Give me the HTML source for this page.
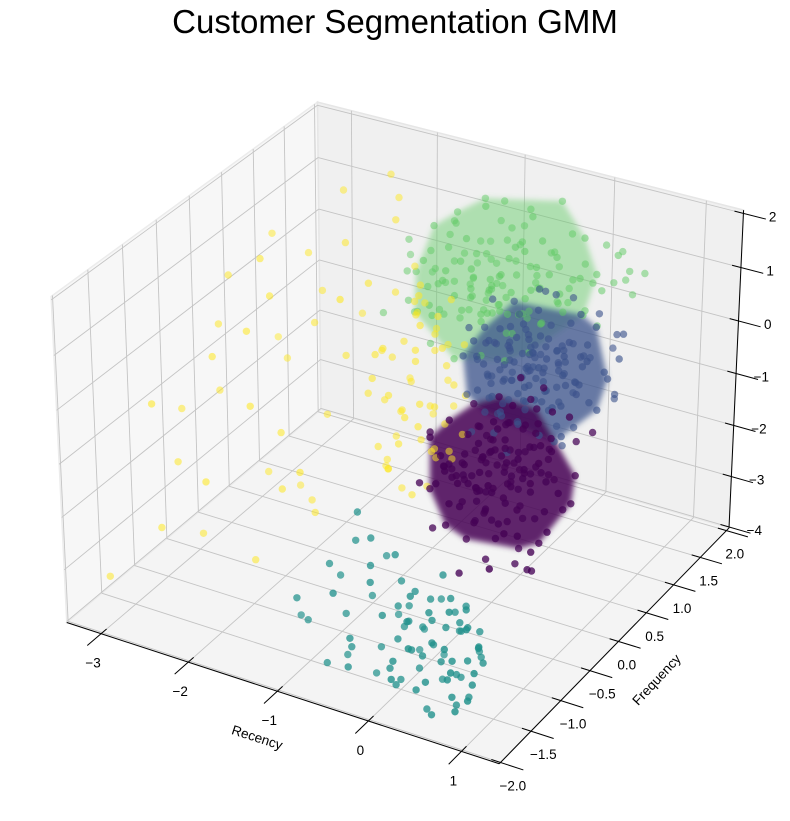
<!DOCTYPE html>
<html><head><meta charset="utf-8"><title>Customer Segmentation GMM</title>
<style>html,body{margin:0;padding:0;background:#fff;}svg{display:block;font-family:"Liberation Sans","DejaVu Sans",sans-serif;}</style>
</head><body>
<svg id="chart" width="790" height="821" viewBox="0 0 790 821" xmlns="http://www.w3.org/2000/svg">
<defs><filter id="soft" x="-30%" y="-30%" width="160%" height="160%"><feGaussianBlur stdDeviation="3"/></filter></defs>
<rect x="0" y="0" width="790" height="821" fill="#ffffff"/>
<text x="395" y="33" text-anchor="middle" font-size="33" fill="#000">Customer Segmentation GMM</text>
<g id="panes"></g>
<g id="grid"></g>
<g id="hulls" filter="url(#soft)"></g>
<g id="points"></g>
<g id="axes"></g>
<text x="257" y="742" font-size="13.5" text-anchor="middle" transform="rotate(18 257 738)">Recency</text>
<text x="657" y="684" font-size="13.5" text-anchor="middle" transform="rotate(-47 657 680)">Frequency</text>
<text x="800" y="370" font-size="13.5" text-anchor="middle" transform="rotate(-90 800 370)">Monetary</text>
</svg>
<script>
const xlim = [-3.40, 1.40];
const ylim = [-2.02, 2.05];
const zlim = [-4.02, 2.06];
const xTicks = [-3, -2, -1, 0, 1];
const yTicks = [-2, -1.5, -1, -0.5, 0, 0.5, 1, 1.5, 2];
const zTicks = [-4, -3, -2, -1, 0, 1, 2];
const xTickLabels = ["−3", "−2", "−1", "0", "1"];
const yTickLabels = ["−2.0", "−1.5", "−1.0", "−0.5", "0.0", "0.5", "1.0", "1.5", "2.0"];
const zTickLabels = ["−4", "−3", "−2", "−1", "0", "1", "2"];
const clusterNames = ["green", "yellow", "blue", "purple", "teal"];
const greenCore = [[-0.85,1.20,0.29],[-0.50,1.50,0.50],[-1.20,0.90,0.10],[-0.70,1.00,0.80],[-1.00,1.40,-0.10],[-0.40,1.10,0.20],[-1.30,1.30,0.60],[-0.60,0.80,0.40],[-0.90,1.60,0.90],[-1.10,1.10,-0.20],
[-0.30,1.40,0.70],[-0.75,1.25,-0.05],[-1.40,1.00,0.35],[-0.55,0.95,1.00],[-0.95,1.50,0.15],[-0.20,1.60,0.30],[-1.15,0.80,0.70],[-0.65,1.35,1.10],[-1.05,1.25,0.45],[-0.45,1.00,-0.10],
[-0.85,0.90,0.65],[-1.25,1.50,0.00],[-0.35,1.25,0.95],[-0.80,1.60,0.55],[-1.50,1.20,0.80],[-0.60,1.15,0.05],[-1.00,0.95,1.05],[-0.10,1.50,0.60],[-0.90,1.35,-0.25],[-1.20,1.15,0.40],
[-0.50,1.30,0.25],[-0.70,0.85,0.15],[-1.35,1.40,1.20],[-0.25,1.20,0.00],[-0.95,1.05,0.30],[-0.40,1.65,0.85],[-1.10,1.55,0.60],[-0.75,1.10,0.50],[-1.45,0.90,-0.05],[-0.55,1.45,-0.15],
[-0.15,1.35,0.45],[-1.05,1.30,0.85],[-0.65,0.95,0.75],[-0.85,1.45,0.20],[-1.25,1.05,-0.15],[0.00,1.70,0.40],[-0.45,1.20,1.25],[-1.60,1.10,0.45],[-0.90,1.20,-0.05],[-0.35,0.95,0.35],
[-1.15,1.40,0.25],[-0.70,1.55,1.00],[-0.20,1.10,0.10],[-1.00,0.85,0.50],[-0.55,1.60,0.15],[-1.30,1.20,0.95],[-0.80,1.00,0.10],[-0.30,1.55,0.05],[-1.05,1.65,0.35],[-0.60,1.30,0.65],
[0.10,1.60,0.70],[-0.95,0.90,0.20],[-1.40,1.30,0.15],[-0.40,1.40,0.40],[-0.75,1.40,0.80],[-1.20,0.95,0.60],[-0.05,1.25,0.25],[-0.85,1.60,1.15],[-0.50,1.05,0.60],[-1.10,1.20,1.20],
[-0.65,1.20,0.30],[-0.25,1.45,1.00],[-0.95,1.40,0.70],[-1.35,1.55,0.50],[0.20,1.75,0.45],[-0.45,0.90,0.00],[-0.80,1.30,0.00],[-1.55,1.35,0.30],[-0.15,1.50,0.15],[-0.70,1.70,0.40],
[-1.00,1.10,0.00],[0.30,1.80,0.50],[-0.35,1.35,1.35],[-1.20,1.60,0.75],[-0.60,1.00,0.90],[-0.90,1.00,0.40],[-1.45,1.45,0.90],[-0.50,1.75,0.70],[0.05,1.45,0.05],[-1.25,0.80,0.25]];
const greenExtra = [[-1.40,1.50,1.30],[-0.30,1.80,1.10],[-1.70,0.70,0.00],[0.20,1.90,0.90],[-1.00,1.70,1.50],[-0.60,0.70,-0.30],[-1.50,1.60,1.00],[-0.10,1.70,1.20],[-1.20,0.75,-0.40],[0.35,1.85,0.20],
[-0.80,1.85,1.30],[-1.60,0.95,0.60],[-0.40,0.80,-0.40],[-1.30,1.70,0.20],[0.15,1.55,-0.20],[-0.90,0.70,-0.50],[-0.50,1.90,0.30],[-1.75,1.20,0.90],[-0.20,0.90,-0.25],[-1.10,1.80,1.00],
[0.40,1.70,0.80],[-0.70,1.80,0.00],[-1.45,0.75,0.30],[-0.35,1.65,-0.10],[-1.00,0.70,1.10],[0.05,1.85,1.00],[-1.25,1.75,1.40],[-0.55,0.75,0.90],[-1.65,1.45,0.10],[-0.15,1.80,0.60],
[-0.95,1.55,-0.30],[0.25,1.45,0.60],[-1.35,0.85,1.00],[-0.65,1.65,1.40],[-0.25,1.00,0.80],[-1.55,1.00,-0.20],[-0.85,1.75,0.70],[0.45,1.90,0.60],[-1.15,0.70,0.20],[-0.45,1.85,1.60],
[-1.80,1.30,0.50],[0.10,1.30,0.90],[-0.75,0.75,1.20],[-1.25,1.85,0.50],[-0.05,1.65,-0.10],[-1.05,1.45,1.60],[-0.60,1.50,-0.35],[0.30,1.65,1.10],[-1.40,1.10,1.40],[-0.90,1.90,0.90]];
const yellowCore = [[-1.20,0.50,-0.50],[-1.00,0.30,-1.70],[-1.40,0.80,0.00],[-0.90,0.10,-1.20],[-1.30,0.20,-0.90],[-1.10,0.60,-1.40],[-1.50,0.40,-0.30],[-0.95,0.45,-2.00],[-1.25,0.90,-0.70],[-1.05,0.00,-1.50],
[-1.35,0.65,-1.10],[-0.85,0.25,-1.80],[-1.45,0.15,-0.60],[-1.15,0.75,-0.20],[-1.00,0.55,-2.30],[-1.60,0.70,-0.80],[-1.20,0.05,-2.10],[-0.90,0.70,-1.00],[-1.30,1.00,-0.40],[-1.10,0.35,-0.10],
[-1.55,0.50,-1.40],[-1.00,0.85,-1.60],[-1.40,0.30,-2.40],[-0.80,0.40,-1.40],[-1.25,0.60,0.30],[-1.70,0.90,0.20],[-1.10,-0.10,-1.90],[-0.95,0.95,-0.50],[-1.35,0.40,-1.90],[-1.50,1.10,-0.10],
[-2.16,1.50,1.68],[-2.00,1.40,1.40],[-3.13,-1.00,-0.76],[-3.29,-1.50,-3.63],[-2.80,-0.50,-0.20],[-2.50,0.00,0.60],[-2.20,0.80,1.00],[-1.90,1.20,1.20],[-2.60,0.40,-1.00],[-3.00,-0.80,-2.00],
[-2.40,-0.20,-2.50],[-2.00,0.20,-1.60],[-1.80,0.60,0.60],[-2.70,0.90,0.50],[-3.10,0.00,-0.20],[-2.30,-0.60,-0.80],[-1.70,0.00,0.90],[-2.90,-1.20,-2.80],[-2.10,-0.40,-1.40],[-1.90,-0.20,-2.80],
[-2.50,1.20,1.50],[-3.20,0.30,0.40],[-2.65,-0.90,-3.10],[-1.75,1.30,0.30],[-2.35,0.50,-0.30],[-2.85,0.60,-0.90],[-1.95,-0.60,-2.20],[-2.15,1.00,-0.50],[-3.25,-0.40,-1.50],[-2.45,-1.10,-1.80],
[-1.85,0.30,-0.50],[-2.75,0.20,1.00],[-2.05,-0.90,-3.30],[-1.65,-0.50,-2.60],[-2.55,-0.30,0.20],[-3.05,0.80,0.80],[-2.25,0.10,-3.00],[-1.60,-0.80,-1.50],[-2.95,-0.20,-1.20],[-2.40,0.70,0.10]];
const yellowExtra = [[-1.30,0.70,0.50],[-1.15,0.20,-2.60],[-1.45,0.95,0.40],[-0.85,0.55,-2.10],[-1.60,0.30,-1.10],[-1.05,0.80,-0.80],[-1.25,0.35,-1.30],[-0.90,0.00,-2.40],[-1.50,0.75,-0.50],[-1.20,1.10,0.10],
[-0.95,0.20,-0.90],[-1.40,0.55,-1.60],[-1.10,0.90,-1.20],[-1.35,0.10,-1.80],[-0.80,0.70,-1.90],[-1.55,1.00,0.00],[-1.00,0.40,-2.70],[-1.20,0.80,-1.80],[-1.45,0.20,-0.20],[-0.90,0.90,-1.40],
[-1.65,0.60,-0.60],[-1.05,0.10,-1.10],[-1.30,1.20,-0.90],[-0.85,0.30,-1.00],[-1.15,0.50,0.20],[-1.50,0.85,-1.30],[-1.00,0.65,-0.30],[-1.35,0.25,-2.20],[-0.95,0.75,-2.50],[-1.25,0.95,-0.10]];
const blueCore = [[-0.27,1.00,-0.64],[0.00,1.20,-0.40],[-0.55,0.80,-0.90],[-0.10,0.70,-0.30],[-0.40,1.30,-1.00],[0.15,1.00,-0.80],[-0.65,1.10,-0.20],[-0.30,0.60,-1.20],[-0.05,1.40,-0.10],[-0.50,1.05,-0.50],
[0.10,0.85,-1.10],[-0.35,1.25,-0.75],[-0.20,0.90,0.00],[-0.70,0.90,-0.70],[0.05,1.15,-0.55],[-0.45,0.75,-0.35],[-0.15,1.35,-0.85],[-0.60,1.25,-1.15],[0.20,1.30,-0.30],[-0.25,0.80,-0.95],
[-0.40,1.00,-0.15],[0.00,0.95,-1.30],[-0.55,1.40,-0.45],[-0.12,1.05,-0.65],[-0.32,0.65,-0.60],[0.12,1.10,-0.10],[-0.68,0.75,-0.40],[-0.22,1.20,-1.10],[-0.48,0.90,-1.35],[0.08,0.75,-0.70],
[-0.30,1.45,-0.30],[-0.58,1.00,-0.85],[-0.02,1.25,-0.90],[-0.38,0.85,-0.20],[0.18,0.90,-0.50],[-0.62,1.20,-0.60],[-0.18,0.70,-1.40],[-0.42,1.15,-0.05],[0.02,1.05,-0.25],[-0.28,0.95,-1.25],
[-0.52,0.70,-0.65],[-0.08,1.30,-0.45],[-0.35,1.10,-1.45],[0.14,1.20,-0.95],[-0.72,1.00,-1.00],[-0.22,1.00,-0.35],[-0.46,1.35,-0.70],[0.06,0.80,-0.15],[-0.32,0.75,-1.05],[-0.14,1.15,-0.20],
[-0.56,0.90,-0.25],[0.22,1.05,-0.75],[-0.26,1.30,-0.55],[-0.44,0.65,-0.95],[-0.04,0.90,-0.55],[-0.66,1.30,-0.35],[-0.16,0.85,-0.80],[0.10,1.40,-0.65],[-0.36,0.90,-0.50],[-0.50,1.20,0.05],
[-0.24,1.10,-0.95],[0.00,0.70,-0.85],[-0.60,0.85,-1.25],[-0.10,1.25,-1.20],[-0.40,0.80,-0.75],[0.16,0.95,-0.20],[-0.30,1.05,-0.10],[-0.54,1.10,-0.40],[-0.06,1.00,-1.00],[-0.20,1.40,-0.70],
[-0.74,1.15,-0.55],[0.04,1.30,-0.35],[-0.34,0.70,-0.35],[-0.12,0.80,-0.45],[-0.48,1.05,-1.05],[0.24,1.15,-0.55],[-0.28,0.85,-1.55],[-0.58,0.75,-0.10],[-0.02,1.15,-0.75],[-0.38,1.40,-0.85],
[-0.18,0.95,-0.30],[-0.44,0.95,-0.55],[0.08,1.00,-1.15],[-0.64,0.95,-0.95],[-0.26,1.20,-0.25],[0.30,0.95,-0.85],[-0.08,0.65,-0.60],[-0.52,1.30,-0.80],[-0.32,1.20,-0.45],[-0.14,1.05,-1.30],
[0.45,1.20,-0.60],[0.40,1.35,-0.90],[0.35,1.05,-0.30]];
const blueExtra = [[-0.80,0.70,-0.40],[0.40,1.50,-0.20],[-0.50,1.55,0.20],[0.30,0.70,-1.40],[-0.70,1.40,-1.50],[0.00,0.60,0.10],[-0.30,1.60,-1.20],[0.50,1.00,-1.10],[-0.90,1.10,-0.90],[0.20,1.50,0.10],
[-0.60,0.55,-1.60],[0.45,1.40,-1.30],[-0.20,0.55,-1.80],[-0.75,1.50,-0.10],[0.10,0.60,-0.10],[0.35,1.20,0.20],[-0.45,0.60,0.15],[-0.10,1.55,-1.60],[0.55,1.30,-0.40],[-0.85,0.85,-1.30],
[-0.40,1.50,0.25],[0.25,0.80,-1.70],[-0.65,0.65,0.00],[0.05,1.60,-0.90],[-0.25,0.50,-1.00],[0.60,1.15,-0.90],[-0.95,1.30,-0.50],[0.15,0.55,-1.30],[-0.55,1.45,-1.30],[0.40,0.85,0.00],
[-0.15,1.60,0.15],[-0.35,0.55,-1.50],[0.30,1.60,-0.60],[-0.80,1.20,0.20],[0.10,0.90,-1.80],[-0.60,1.00,-1.70],[0.50,1.45,-0.10],[-0.05,0.55,-0.30],[-0.45,1.25,-1.80],[0.20,1.35,-1.45],
[-0.70,0.80,-1.10],[0.35,0.60,-0.70],[-0.25,1.45,0.30],[0.00,1.10,-1.75],[-0.90,0.95,-0.15],[0.45,0.75,-0.40],[-0.35,1.30,0.10],[0.15,1.25,0.30],[-0.55,0.70,-1.35],[0.25,1.00,-1.55]];
const purpleCore = [[-0.47,0.80,-2.43],[-0.20,0.95,-2.10],[-0.80,0.60,-2.60],[-0.35,1.10,-1.90],[-0.60,0.40,-2.80],[-0.10,0.70,-2.30],[-0.90,0.95,-2.20],[-0.45,0.55,-3.10],[-0.30,1.25,-2.00],[-0.72,0.85,-1.85],
[-0.15,0.45,-2.65],[-0.55,1.00,-2.50],[-0.05,0.90,-1.95],[-0.88,0.50,-2.35],[-0.40,0.30,-3.00],[-0.25,1.05,-2.75],[-0.65,0.75,-2.05],[-0.50,1.30,-2.25],[0.00,0.65,-2.40],[-0.78,1.15,-2.70],
[-0.33,0.70,-2.90],[-0.58,0.90,-1.75],[-0.12,1.20,-2.15],[-0.95,0.70,-2.55],[-0.42,0.85,-2.60],[-0.27,0.40,-2.45],[-0.68,1.05,-2.30],[-0.08,0.55,-2.85],[-0.52,0.60,-2.15],[-0.38,1.35,-1.85],
[-0.84,0.80,-2.90],[-0.18,0.80,-2.55],[-0.62,0.35,-2.40],[-0.30,0.95,-3.30],[-0.47,1.10,-2.70],[-0.02,1.05,-2.20],[-0.74,0.65,-2.20],[-0.44,0.45,-2.20],[-0.22,0.60,-3.20],[-0.58,1.20,-2.60],
[-0.90,0.40,-2.60],[-0.35,0.75,-2.00],[-0.10,1.00,-2.60],[-0.66,0.95,-2.85],[-0.50,0.50,-2.65],[-0.28,1.15,-2.35],[-0.80,1.00,-2.05],[-0.16,0.35,-2.95],[-0.56,0.75,-2.95],[-0.40,0.65,-1.95],
[-0.70,0.55,-2.25],[-0.06,0.75,-2.70],[-0.48,0.95,-2.10],[-0.32,0.50,-2.50],[-0.85,1.20,-2.45],[-0.20,1.30,-2.50],[-0.60,0.65,-3.05],[-0.44,1.00,-2.95],[0.05,0.85,-2.55],[-0.75,0.45,-2.45],
[-0.37,0.90,-2.70],[-0.53,0.25,-2.70],[-0.14,0.65,-2.00],[-0.98,0.60,-2.30],[-0.46,0.70,-3.40],[-0.26,0.85,-2.85],[-0.64,1.25,-2.15],[-0.09,0.45,-2.30],[-0.50,0.85,-1.80],[-0.34,0.30,-2.35],
[-0.82,0.75,-2.75],[-0.23,1.10,-2.00],[-0.60,0.50,-2.55],[-0.41,1.20,-2.55],[-0.70,0.90,-2.50],[-0.11,1.15,-2.80],[-0.55,0.55,-3.30],[-0.30,0.70,-2.20],[-0.88,1.05,-2.60],[-0.19,0.55,-2.40],
[-0.45,0.40,-2.45],[-0.63,0.80,-2.35],[-0.04,0.60,-2.10],[-0.77,0.35,-2.15],[-0.39,1.05,-2.40],[-0.57,1.10,-2.00],[-0.24,0.25,-2.60],[-0.69,0.70,-2.65],[-0.13,0.95,-2.45],[-0.50,0.65,-2.25],
[0.10,-0.20,-3.10],[0.20,0.30,-3.60],[-0.30,-0.10,-3.50]];
const purpleExtra = [[-0.90,0.30,-1.60],[-0.60,1.40,-1.40],[-0.20,0.20,-3.50],[0.20,0.50,-3.30],[0.30,0.90,-2.90],[-1.00,1.20,-1.90],[-0.80,0.20,-3.20],[0.10,1.30,-2.20],[-0.40,1.50,-1.60],[0.25,0.30,-3.60],
[-0.70,1.30,-3.10],[-0.15,0.15,-2.00],[0.15,1.00,-3.20],[-0.55,0.10,-2.50],[-1.05,0.90,-2.90],[0.00,0.40,-3.70],[-0.30,1.45,-2.90],[-0.85,0.55,-1.50],[0.28,0.70,-2.50],[-0.45,0.20,-1.80],
[-0.65,1.10,-1.50],[0.05,1.25,-1.70],[-0.95,0.20,-2.40],[-0.35,0.60,-3.60],[0.18,0.15,-2.80],[-0.75,1.45,-2.40],[-0.10,0.90,-3.40],[-0.50,1.25,-3.00],[0.22,1.10,-2.60],[-0.25,0.35,-1.60],
[-0.60,0.80,-3.40],[-1.10,0.60,-1.90],[0.12,0.60,-1.90],[-0.20,1.40,-3.20],[-0.70,0.25,-2.10],[0.35,0.40,-2.90],[-0.40,0.95,-1.40],[0.00,0.20,-2.90],[-0.90,1.35,-2.70],[-0.15,0.70,-3.80],
[0.25,1.35,-2.00],[-0.55,0.40,-3.50],[-0.30,1.00,-3.60],[-1.00,0.45,-2.80],[0.10,0.75,-3.00],[-0.45,1.35,-1.70],[-0.80,0.95,-3.20],[0.30,0.20,-3.10],[-0.05,1.10,-1.50],[-0.62,0.15,-3.00]];
const tealCore = [[0.10,-1.30,-3.00],[0.40,-1.60,-2.80],[-0.30,-1.10,-3.20],[0.60,-1.50,-3.40],[-0.10,-1.40,-2.60],[0.30,-1.00,-3.30],[-0.60,-1.50,-2.90],[0.70,-1.80,-3.10],[0.00,-1.20,-3.60],[0.50,-1.30,-2.70],
[-0.40,-1.70,-3.20],[0.20,-1.50,-3.50],[-0.80,-1.30,-2.50],[0.80,-1.60,-3.60],[0.10,-1.00,-2.80],[-0.20,-1.60,-3.70],[0.45,-1.20,-3.00],[-0.50,-1.00,-2.30],[0.65,-1.40,-2.60],[0.05,-1.75,-3.30],
[-0.95,-1.60,-3.10],[0.35,-1.35,-3.80],[-0.15,-1.15,-2.90],[0.85,-1.90,-3.50],[0.25,-1.70,-2.90],[-0.70,-1.20,-1.90],[0.55,-1.05,-3.50],[-0.25,-1.45,-3.40],[0.15,-1.25,-2.50],[0.75,-1.55,-3.00],
[-1.10,-1.50,-3.20],[0.00,-1.55,-3.00],[0.40,-1.85,-3.40],[-0.45,-1.30,-2.70],[0.90,-1.70,-3.20],[0.20,-1.10,-3.70],[-0.60,-1.80,-3.50],[0.50,-1.60,-3.10],[-0.05,-1.05,-3.40],[0.30,-1.45,-2.60],
[-0.85,-1.40,-2.20],[0.70,-1.25,-3.30],[0.10,-1.65,-3.60],[-0.35,-1.80,-2.90],[0.60,-1.90,-3.70],[-0.10,-1.30,-3.10],[0.35,-1.15,-2.75],[-0.55,-1.55,-3.60],[0.80,-1.45,-2.85],[0.15,-1.85,-3.00],
[-0.75,-1.10,-1.50],[0.45,-1.75,-3.85],[-0.20,-1.20,-2.40],[0.95,-1.85,-3.30],[0.25,-1.35,-3.20],[-1.00,-1.70,-2.60],[0.55,-1.35,-3.65],[-0.30,-1.90,-3.30],[0.05,-1.45,-2.75],[0.65,-1.65,-2.95]];
const tealExtra = [[0.30,-1.50,-2.40],[0.50,-1.20,-2.50],[0.70,-1.50,-2.50],[0.20,-1.70,-2.40],[0.60,-1.70,-2.70],[0.40,-1.30,-2.30],[0.80,-1.90,-2.80],[0.10,-1.50,-2.20],[0.90,-1.60,-2.60],[0.35,-1.90,-2.60],
[-0.40,-1.40,-2.00],[-0.20,-1.30,-1.80],[0.55,-1.55,-2.20],[0.75,-1.80,-3.40],[0.25,-1.20,-2.05],[-0.60,-1.70,-2.30],[0.45,-1.45,-2.65],[0.65,-1.20,-2.90],[0.15,-1.80,-3.50],[-0.10,-1.65,-2.50],
[0.85,-1.45,-3.10],[0.05,-1.35,-2.30],[0.50,-1.85,-3.20],[-0.30,-1.55,-2.10],[0.95,-1.75,-2.90],[0.30,-1.60,-3.10],[0.60,-1.35,-2.35],[-0.50,-1.25,-1.70],[0.20,-1.95,-3.20],[0.70,-1.65,-3.75]];
const clusterColors = {green:"#5ec962", yellow:"#fde725", blue:"#3b528b", purple:"#440154", teal:"#21918c"};
const clusterAlpha = {green:0.55, yellow:0.6, blue:0.68, purple:0.82, teal:0.85};
const clusterHull = {green:0.45, yellow:0.0, blue:0.75, purple:0.85, teal:0.0};
const clusterData = {green:greenCore.concat(greenExtra), yellow:yellowCore.concat(yellowExtra), blue:blueCore.concat(blueExtra), purple:purpleCore.concat(purpleExtra), teal:tealCore.concat(tealExtra)};

const NS = "http://www.w3.org/2000/svg";
function proj(x, y, z) {
  const dx = ((x - xlim[0]) / (xlim[1] - xlim[0]) - 0.5) * 1.191;
  const dy = ((y - ylim[0]) / (ylim[1] - ylim[0]) - 0.5) * 1.191;
  const dz = ((z - zlim[0]) / (zlim[1] - zlim[0]) - 0.5) * 0.893;
  const u = 0.8660 * dx + 0.5 * dy;
  const v = -0.25 * dx + 0.4330 * dy + 0.8660 * dz;
  const w = 0.4330 * dx - 0.75 * dy + 0.5 * dz;
  const den = 10 - w;
  return [404 + 4160 * u / den, 417 - 4160 * v / den, w];
}
function mk(tag, attrs, parent) {
  const el = document.createElementNS(NS, tag);
  for (const k in attrs) el.setAttribute(k, attrs[k]);
  parent.appendChild(el);
  return el;
}
function ptsStr(list) { return list.map(p => { const q = proj(p[0], p[1], p[2]); return q[0].toFixed(1) + "," + q[1].toFixed(1); }).join(" "); }

const panes = document.getElementById("panes");
const [x0, x1] = xlim, [y0, y1] = ylim, [z0, z1] = zlim;
let el;
el = mk("polygon", {points: ptsStr([[x0,y0,z0],[x0,y1,z0],[x0,y1,z1],[x0,y0,z1]]), fill: "#f7f7f7", stroke: "#ececec", "stroke-width": 1.5}, panes);


el = mk("polygon", {points: ptsStr([[x0,y1,z0],[x1,y1,z0],[x1,y1,z1],[x0,y1,z1]]), fill: "#f0f0f0", stroke: "#e6e6e6", "stroke-width": 1.5}, panes);


el = mk("polygon", {points: ptsStr([[x0,y0,z0],[x1,y0,z0],[x1,y1,z0],[x0,y1,z0]]), fill: "#f4f4f4", stroke: "#eaeaea", "stroke-width": 1.5}, panes);



const grid = document.getElementById("grid");
function gline(a, b, name) {
  const p = proj(a[0], a[1], a[2]), q = proj(b[0], b[1], b[2]);
  const l = mk("line", {x1: p[0], y1: p[1], x2: q[0], y2: q[1], stroke: "#c4c4c4", "stroke-width": 0.9}, grid);
  
  
}
xTicks.forEach(t => { gline([t,y0,z0],[t,y1,z0],'x-gridline'); gline([t,y1,z0],[t,y1,z1],'x-gridline'); });
yTicks.forEach(t => { gline([x0,t,z0],[x1,t,z0],'y-gridline'); gline([x0,t,z0],[x0,t,z1],'y-gridline'); });
zTicks.forEach(t => { gline([x0,y0,t],[x0,y1,t],'z-gridline'); gline([x0,y1,t],[x1,y1,t],'z-gridline'); });

const hulls = document.getElementById("hulls");
function hull(pts) {
  pts = pts.slice().sort((a, b) => a[0] - b[0] || a[1] - b[1]);
  const cr = (o, a, b) => (a[0]-o[0])*(b[1]-o[1]) - (a[1]-o[1])*(b[0]-o[0]);
  const lo = [], up = [];
  for (const p of pts) { while (lo.length >= 2 && cr(lo[lo.length-2], lo[lo.length-1], p) <= 0) lo.pop(); lo.push(p); }
  for (const p of pts.slice().reverse()) { while (up.length >= 2 && cr(up[up.length-2], up[up.length-1], p) <= 0) up.pop(); up.push(p); }
  return lo.slice(0, -1).concat(up.slice(0, -1));
}
clusterNames.forEach(name => {
  if (!clusterHull[name]) return;
  const sp = clusterData[name].map(p => proj(p[0], p[1], p[2]));
  const cx = sp.reduce((s, p) => s + p[0], 0) / sp.length, cy = sp.reduce((s, p) => s + p[1], 0) / sp.length;
  const ds = sp.map(p => Math.hypot(p[0]-cx, p[1]-cy)).sort((a, b) => a - b);
  const cut = ds[Math.floor(ds.length * 0.88)];
  const core = sp.filter(p => Math.hypot(p[0]-cx, p[1]-cy) <= cut).map(p => [p[0], p[1]]);
  const h = hull(core);
  const poly = mk("polygon", {points: h.map(p => p[0].toFixed(1) + "," + p[1].toFixed(1)).join(" "), fill: clusterColors[name], "fill-opacity": clusterHull[name]}, hulls);
  
  
});

const pg = document.getElementById("points");
clusterNames.forEach(name => {
  const g = mk("g", {}, pg);
  
  
  const sp = clusterData[name].map(p => proj(p[0], p[1], p[2]));
  sp.sort((a, b) => a[2] - b[2]);
  const wmin = Math.min(...sp.map(p => p[2])), wmax = Math.max(...sp.map(p => p[2]));
  sp.forEach(p => {
    const f = wmax > wmin ? (p[2] - wmin) / (wmax - wmin) : 1;
    const c = mk("circle", {cx: p[0].toFixed(1), cy: p[1].toFixed(1), r: 3.7, fill: clusterColors[name], "fill-opacity": (clusterAlpha[name] * (0.8 + 0.2 * f)).toFixed(2)}, g);
    
    
  });
});

const ax = document.getElementById("axes");
function aline(a, b, name, w) {
  const p = proj(a[0], a[1], a[2]), q = proj(b[0], b[1], b[2]);
  const l = mk("line", {x1: p[0], y1: p[1], x2: q[0], y2: q[1], stroke: "#000", "stroke-width": w}, ax);
  
  
}
aline([x0,y0,z0],[x1,y0,z0],'x-axis-line',1);
aline([x1,y0,z0],[x1,y1,z0],'y-axis-line',1);
aline([x1,y1,z0],[x1,y1,z1],'z-axis-line',1);
const ry = (y1 - y0), rx = (x1 - x0);
xTicks.forEach((t, i) => {
  aline([t, y0 + 0.02*ry, z0], [t, y0 - 0.05*ry, z0], 'x-tick', 1);
  const p = proj(t, y0, z0);
  const tx = mk("text", {x: p[0] - 8, y: p[1] + 34, "text-anchor": "middle", "font-size": 13.5}, ax);
  tx.textContent = xTickLabels[i];
  
  
});
yTicks.forEach((t, i) => {
  aline([x1 - 0.02*rx, t, z0], [x1 + 0.05*rx, t, z0], 'y-tick', 1);
  const p = proj(x1, t, z0);
  const tx = mk("text", {x: p[0] - 1, y: p[1] + 28, "text-anchor": "start", "font-size": 13.5}, ax);
  tx.textContent = yTickLabels[i];
  
  
});
zTicks.forEach((t, i) => {
  aline([x1 - 0.02*rx, y1, t], [x1 + 0.05*rx, y1, t], 'z-tick', 1);
  const p = proj(x1, y1, t);
  const tx = mk("text", {x: p[0] + 33, y: p[1] + 8, "text-anchor": "end", "font-size": 13.5}, ax);
  tx.textContent = zTickLabels[i];
  
  
});
</script>
</body></html>
